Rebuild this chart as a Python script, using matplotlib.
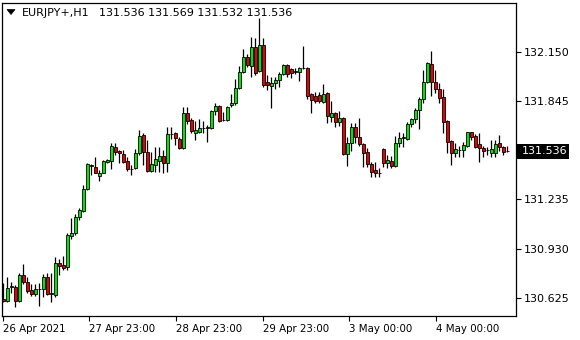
import matplotlib
matplotlib.use('Agg')
import matplotlib.pyplot as plt
import numpy as np
from matplotlib.patches import Rectangle, Polygon
from matplotlib.transforms import IdentityTransform

symbol = 'EURJPY+,H1'
header_values = ['131.536', '131.569', '131.532', '131.536']
time_labels = ['26 Apr 2021', '27 Apr 23:00', '28 Apr 23:00', '29 Apr 23:00',
               '3 May 00:00', '4 May 00:00']
price_ticks = [130.625, 130.930, 131.235, 131.540, 131.845, 132.150]
last_price = 131.536

opens = [130.617, 130.604, 130.691, 130.691, 130.604, 130.766, 130.722, 130.673, 130.648, 130.679,
         130.679, 130.753, 130.654, 130.642, 130.841, 130.828, 130.816, 131.008, 131.027, 131.126,
         131.164, 131.300, 131.443, 131.437, 131.381, 131.400, 131.468, 131.474, 131.561, 131.537,
         131.518, 131.474, 131.425, 131.431, 131.524, 131.636, 131.530, 131.412, 131.450, 131.474,
         131.505, 131.462, 131.642, 131.648, 131.611, 131.555, 131.773, 131.729, 131.648, 131.655,
         131.680, 131.680, 131.680, 131.785, 131.816, 131.729, 131.729, 131.822, 131.835, 131.928,
         132.028, 132.121, 132.065, 132.183, 132.034, 132.195, 131.965, 131.941, 131.959, 131.978,
         132.015, 132.071, 132.046, 132.028, 132.028, 132.052, 132.052, 131.891, 131.878, 131.885,
         131.841, 131.897, 131.748, 131.773, 131.717, 131.742, 131.518, 131.586, 131.686, 131.624,
         131.580, 131.530, 131.456, 131.418, 131.400, 131.549, 131.462, 131.474, 131.443, 131.586,
         131.617, 131.611, 131.704, 131.735, 131.791, 131.860, 131.965, 132.077, 131.965, 131.922,
         131.872, 131.723, 131.599, 131.524, 131.543, 131.543, 131.568, 131.655, 131.630, 131.580,
         131.555, 131.543, 131.524, 131.524, 131.586, 131.561, 131.536]
highs = [130.716, 130.753, 130.722, 130.704, 130.778, 130.834, 130.753, 130.710, 130.710, 130.716,
         130.772, 130.778, 130.778, 130.878, 130.865, 130.884, 131.027, 131.120, 131.145, 131.182,
         131.325, 131.460, 131.456, 131.499, 131.418, 131.481, 131.487, 131.586, 131.586, 131.543,
         131.543, 131.499, 131.450, 131.549, 131.667, 131.648, 131.605, 131.530, 131.561, 131.561,
         131.543, 131.686, 131.686, 131.655, 131.624, 131.810, 131.810, 131.742, 131.723, 131.735,
         131.723, 131.698, 131.791, 131.835, 131.822, 131.779, 131.816, 131.891, 131.984, 132.065,
         132.170, 132.139, 132.245, 132.239, 132.363, 132.239, 132.009, 131.996, 131.996, 132.028,
         132.077, 132.077, 132.052, 132.052, 132.059, 132.189, 132.059, 131.897, 131.903, 131.903,
         131.953, 131.903, 131.847, 131.779, 131.785, 131.748, 131.624, 131.711, 131.711, 131.742,
         131.586, 131.555, 131.468, 131.468, 131.431, 131.555, 131.512, 131.505, 131.630, 131.655,
         131.648, 131.717, 131.742, 131.804, 131.872, 132.040, 132.090, 132.158, 132.040, 131.959,
         131.922, 131.729, 131.605, 131.586, 131.568, 131.592, 131.657, 131.657, 131.642, 131.648,
         131.568, 131.561, 131.605, 131.605, 131.636, 131.568, 131.569]
lows = [130.598, 130.598, 130.654, 130.567, 130.600, 130.710, 130.654, 130.635, 130.635, 130.573,
        130.629, 130.642, 130.598, 130.629, 130.766, 130.797, 130.797, 130.990, 131.015, 131.108,
        131.157, 131.294, 131.387, 131.398, 131.350, 131.398, 131.462, 131.425, 131.512, 131.462,
        131.462, 131.412, 131.387, 131.425, 131.512, 131.450, 131.406, 131.406, 131.406, 131.406,
        131.400, 131.406, 131.611, 131.574, 131.549, 131.549, 131.704, 131.648, 131.605, 131.648,
        131.648, 131.592, 131.673, 131.760, 131.717, 131.723, 131.723, 131.810, 131.822, 131.922,
        132.021, 132.059, 131.996, 132.009, 132.028, 131.934, 131.916, 131.804, 131.922, 131.934,
        132.009, 131.996, 131.990, 132.015, 131.972, 132.046, 131.860, 131.773, 131.835, 131.835,
        131.835, 131.711, 131.717, 131.686, 131.692, 131.512, 131.443, 131.537, 131.586, 131.568,
        131.437, 131.437, 131.375, 131.375, 131.375, 131.437, 131.431, 131.431, 131.437, 131.561,
        131.561, 131.605, 131.686, 131.711, 131.673, 131.835, 131.959, 131.878, 131.897, 131.835,
        131.648, 131.524, 131.450, 131.499, 131.499, 131.499, 131.561, 131.605, 131.555, 131.468,
        131.499, 131.512, 131.499, 131.499, 131.537, 131.512, 131.532]
closes = [130.604, 130.685, 130.698, 130.604, 130.766, 130.722, 130.666, 130.648, 130.679, 130.677,
          130.753, 130.648, 130.648, 130.841, 130.822, 130.809, 131.015, 131.027, 131.126, 131.170,
          131.300, 131.456, 131.450, 131.400, 131.400, 131.474, 131.481, 131.568, 131.530, 131.524,
          131.468, 131.425, 131.423, 131.524, 131.630, 131.530, 131.412, 131.456, 131.487, 131.505,
          131.462, 131.642, 131.640, 131.617, 131.555, 131.773, 131.723, 131.661, 131.667, 131.680,
          131.679, 131.686, 131.785, 131.816, 131.723, 131.728, 131.810, 131.835, 131.928, 132.028,
          132.121, 132.071, 132.183, 132.021, 132.195, 131.947, 131.947, 131.959, 131.978, 132.015,
          132.071, 132.015, 132.021, 132.034, 132.052, 132.050, 131.878, 131.854, 131.847, 131.847,
          131.891, 131.754, 131.773, 131.717, 131.742, 131.518, 131.586, 131.686, 131.624, 131.580,
          131.524, 131.456, 131.406, 131.400, 131.398, 131.462, 131.481, 131.443, 131.586, 131.617,
          131.624, 131.704, 131.735, 131.791, 131.860, 131.965, 132.083, 131.965, 131.922, 131.866,
          131.717, 131.592, 131.524, 131.549, 131.541, 131.574, 131.655, 131.624, 131.561, 131.555,
          131.537, 131.541, 131.549, 131.580, 131.561, 131.530, 131.536]

W, H = 580, 340
def fx(px):
    return px / W
def fy(py):
    return 1 - py / H

fig = plt.figure(figsize=(W / 100, H / 100), dpi=100)
fig.patch.set_facecolor('white')
ax = fig.add_axes([fx(2.3), fy(316), fx(516) - fx(2.3), fy(3) - fy(316)])
ax.set_facecolor('white')

o = np.array(opens); h = np.array(highs); l = np.array(lows); c = np.array(closes)
idx = np.arange(len(o))
colors = np.where(c > o, '#00e600', '#e60000')

ax.vlines(idx, l, h, color='black', linewidth=0.9, zorder=2)
ax.bar(idx, np.abs(c - o), bottom=np.minimum(o, c), width=0.66, color=colors,
       edgecolor='black', linewidth=0.6, zorder=3)

ax.set_xlim(-0.25, 128.2)
ax.set_ylim(130.511, 132.456)

label_pos = [-0.15 + k * 21.667 for k in range(len(time_labels))]
ax.set_xticks(label_pos)
ax.set_xticklabels(time_labels)
for lbl in ax.get_xticklabels():
    lbl.set_horizontalalignment('left')
ax.tick_params(axis='x', direction='out', length=3.5, width=0.8, pad=2.5,
               labelsize=7.4, colors='black')

ax.yaxis.tick_right()
ax.set_yticks(price_ticks)
ax.set_yticklabels(['' if abs(p - 131.540) < 1e-6 else f'{p:.3f}' for p in price_ticks])
ax.tick_params(axis='y', direction='out', length=3.5, width=0.8, pad=2,
               labelsize=8, colors='black')

for s in ax.spines.values():
    s.set_color('black')
    s.set_linewidth(0.9)

# Current price box
disp_y = ax.transData.transform((0, last_price))[1]
fig.add_artist(Rectangle((517, disp_y - 7.5), 52, 15, transform=IdentityTransform(),
                         facecolor='black', edgecolor='none', zorder=5))
fig.text(521.5, disp_y, f'{last_price:.3f}', transform=IdentityTransform(),
         color='white', fontsize=8, va='center', ha='left', zorder=6)

# Header
fig.add_artist(Polygon([[7, H - 9.5], [15, H - 9.5], [11, H - 14.5]], closed=True,
                       transform=IdentityTransform(), facecolor='black', edgecolor='black',
                       linewidth=0.5))
fig.text(fx(22), fy(12.5), symbol, fontsize=8, va='center', ha='left', color='black')
fig.text(fx(99), fy(12.5), ' '.join(header_values), fontsize=8, va='center', ha='left',
         color='black')

fig.savefig('out.png', dpi=100, facecolor='white')
